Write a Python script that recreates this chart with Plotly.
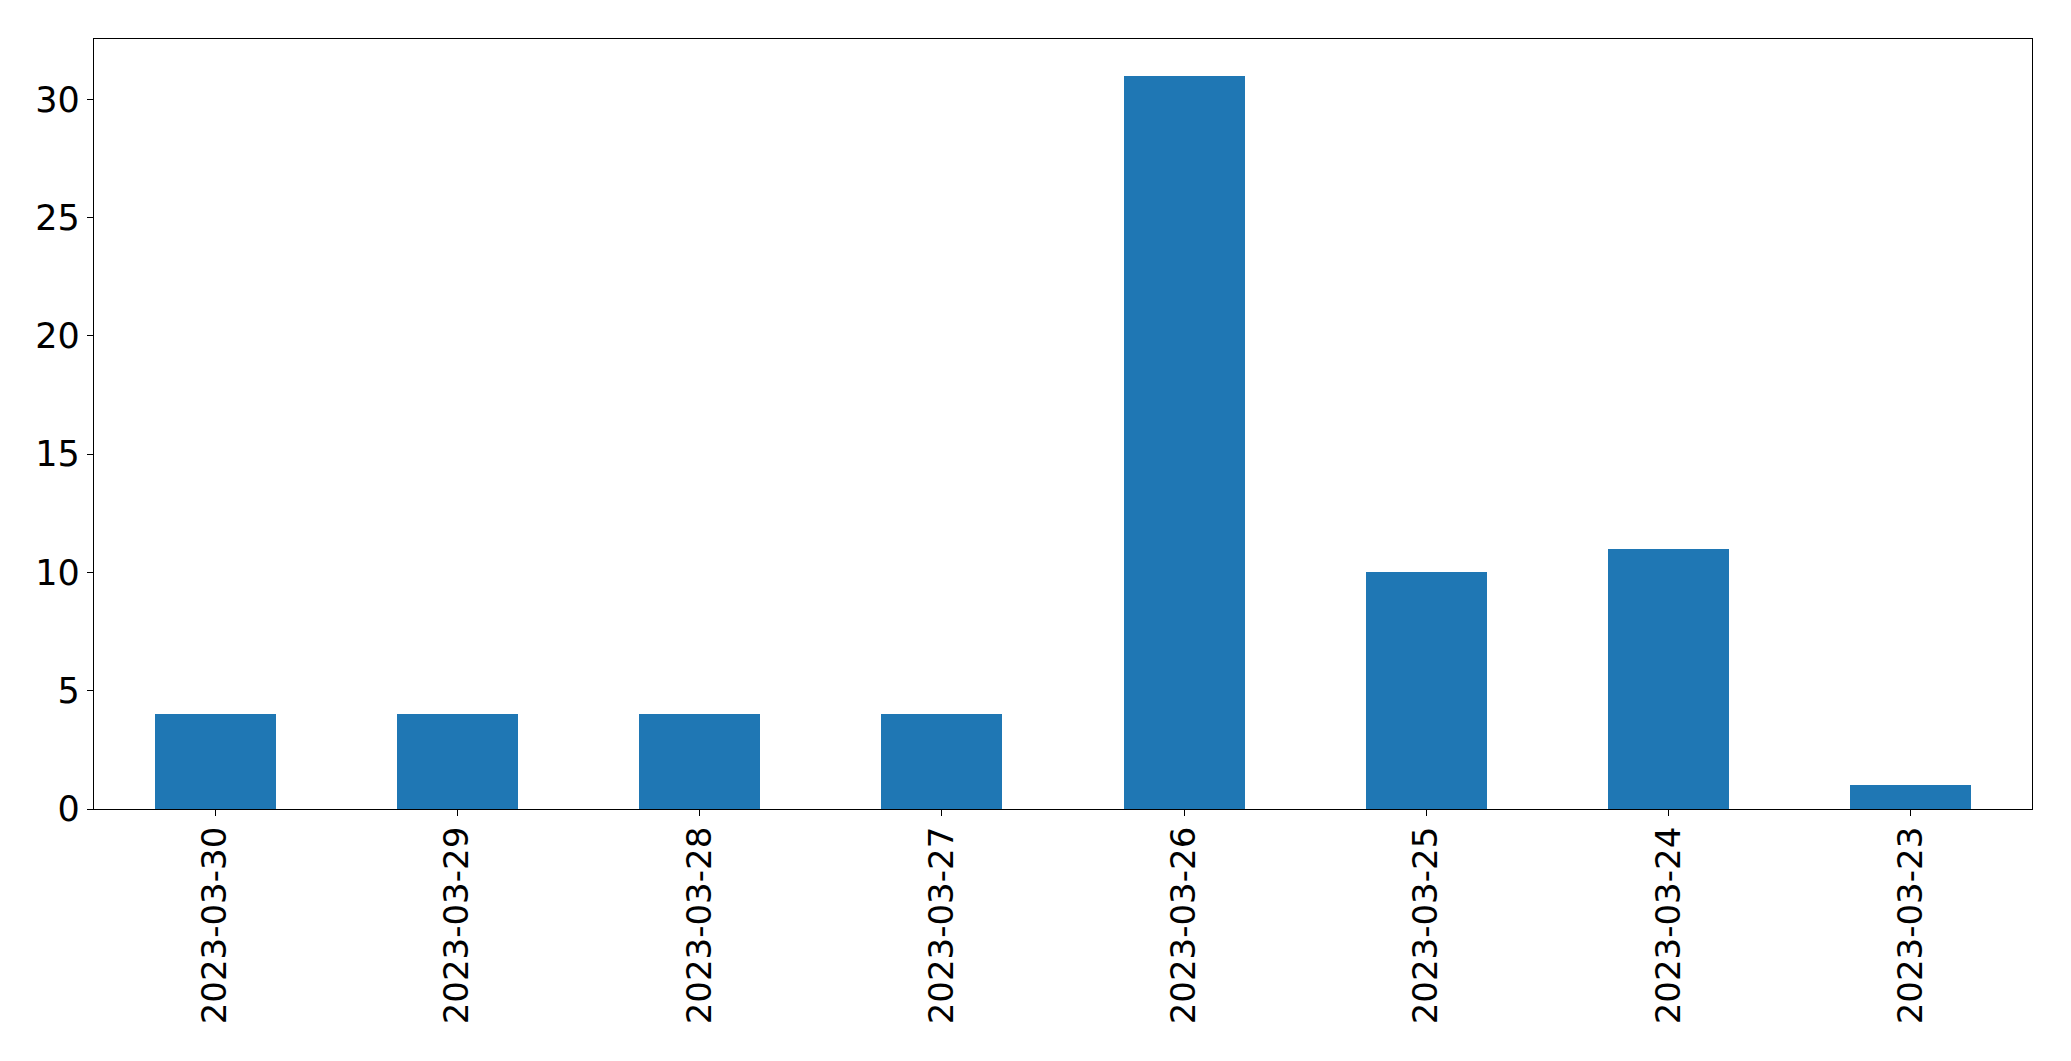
import plotly.graph_objects as go

dates = ["2023-03-30", "2023-03-29", "2023-03-28", "2023-03-27",
         "2023-03-26", "2023-03-25", "2023-03-24", "2023-03-23"]
counts = [4, 4, 4, 4, 31, 10, 11, 1]
y_ticks = [0, 5, 10, 15, 20, 25, 30]

fig = go.Figure(go.Bar(x=dates, y=counts, width=0.5, marker_color="#1f77b4",
                       marker_line_width=0))

xfont = dict(family="DejaVu Sans", size=34, color="black")
yfont = dict(family="DejaVu Sans", size=35, color="black")
fig.update_layout(
    width=2055, height=1045,
    margin=dict(l=86, r=31, t=31, b=244),
    plot_bgcolor="white", paper_bgcolor="white",
    showlegend=False,
    bargap=0,
)
fig.update_xaxes(type="category", range=[-0.5, len(dates) - 0.5],
                 tickangle=-90, tickfont=xfont, showgrid=False,
                 showline=True, mirror=True, linecolor="black", linewidth=1.3,
                 ticks="outside", ticklen=6, tickwidth=1.3, tickcolor="black",
                 ticklabelstandoff=-3)
fig.update_yaxes(range=[0, max(counts) * 1.05], tickvals=y_ticks, tickfont=yfont,
                 showgrid=False, zeroline=False,
                 showline=True, mirror=True, linecolor="black", linewidth=1.3,
                 ticks="outside", ticklen=6, tickwidth=1.3, tickcolor="black",
                 ticklabelstandoff=0)

fig.write_html("out.html")
